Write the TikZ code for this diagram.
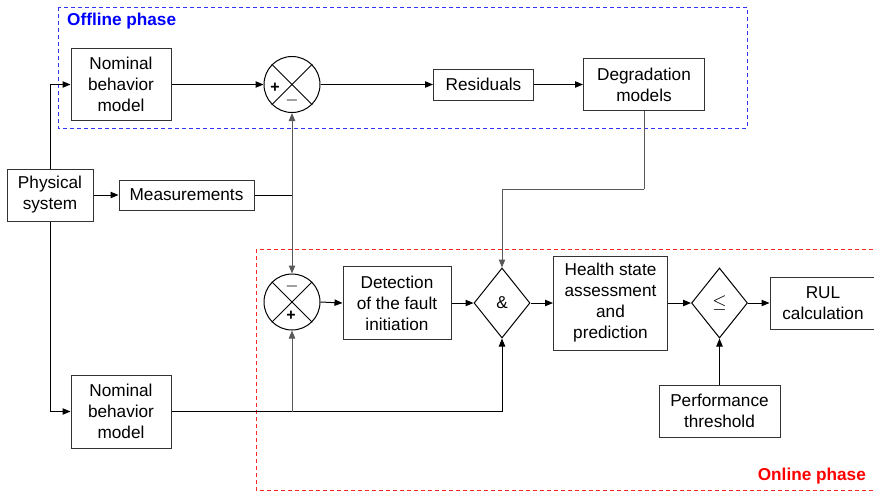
\documentclass[tikz,border=0pt]{standalone}
\usepackage{fontspec}
\setmainfont{Liberation Sans}
\usepackage{tikz}
\usetikzlibrary{arrows.meta, shapes.geometric, positioning}
\tikzstyle{box} = [rectangle, draw = black!80, inner sep=0pt, align=center]
\tikzstyle{sum} = [circle, draw = black, inner sep=0pt, minimum size=28pt]
\tikzstyle{gate} = [diamond, draw = black, inner sep=0pt, minimum width=28pt, minimum height=35pt]
\tikzstyle{arrow} = [-{Triangle[length=4pt,width=3.2pt]}]
\tikzstyle{gline} = [draw = black!65]
\tikzstyle{sign} = [inner sep=0pt, font=\fontsize{8}{8}\selectfont]
\tikzstyle{phase} = [dash pattern=on 2pt off 1.5pt, line width=0.5pt]

\begin{document}
\begin{tikzpicture}[x=0.5pt, y=-0.5pt, line width=0.5pt, font=\fontsize{8.6}{10.5}\selectfont]
          \clip (0,0) rectangle (874,493);
          \useasboundingbox (0,0) rectangle (874,493);

          % phases
          \draw[phase, blue!80] (58,7) rectangle (747,128);
          \draw[phase, red!85] (256,249) rectangle (880,490);
          \node[anchor=west, text=blue, font=\fontsize{8.6}{10.5}\selectfont\bfseries] (offline) at (60,21) {Offline phase};
          \node[anchor=east, text=red, font=\fontsize{8.6}{10.5}\selectfont\bfseries] (online) at (873,476) {Online phase};

          \node[box, minimum width=43pt, minimum height=26pt] (phys) at (50,195) {Physical\\system};
          \node[box, minimum width=67.5pt, minimum height=15pt] (meas) at (186.5,195) {Measurements};
          \node[box, minimum width=50pt, minimum height=36pt] (nom1) at (121,84.5) {Nominal\\behavior\\model};
          \node[box, minimum width=50pt, minimum height=36.5pt] (nom2) at (121,411.5) {Nominal\\behavior\\model};

          \node[sum] (sum1) at (292,84.5) {};
          \draw (sum1.north west) -- (sum1.south east);
          \draw (sum1.north east) -- (sum1.south west);
          \node[sign] (sum1p) at (275,88) {\textbf{+}};
          \node[sign] (sum1m) at (292,100) {$-$};

          \node[sum] (sum2) at (292,302) {};
          \draw (sum2.north west) -- (sum2.south east);
          \draw (sum2.north east) -- (sum2.south west);
          \node[sign] (sum2m) at (292,286) {$-$};
          \node[sign] (sum2p) at (291,316) {\textbf{+}};

          \node[box, minimum width=50pt, minimum height=15.5pt] (res) at (483.5,84.5) {Residuals};
          \node[box, minimum width=60.5pt, minimum height=26pt] (deg) at (644,84.5) {Degradation\\models};

          \node[box, minimum width=54pt, minimum height=36.5pt] (det) at (397,303) {Detection\\of the fault\\initiation};
          \node[gate] (and) at (502,303) {\&};
          \node[box, minimum width=57pt, minimum height=47pt] (health) at (610.5,303) {Health state\\assessment\\and\\prediction};
          \node[gate] (le) at (719.5,303) {$\leq$};
          \node[box, minimum width=53pt, minimum height=26pt] (rul) at (823,303) {RUL\\calculation};
          \node[box, minimum width=60.5pt, minimum height=26pt] (perf) at (719.5,411.3) {Performance\\threshold};

          \coordinate (j1) at (292,195);
          \coordinate (j2) at (292,411.5);
          \coordinate (bend) at (644,189);

          \draw[arrow] (phys.north) |- (nom1.west);
          \draw[arrow] (phys.south) |- (nom2.west);
          \draw[arrow] (phys.east) -- (meas.west);
          \draw[arrow] (nom1.east) -- (sum1.west);
          \draw[arrow] (sum1.east) -- (res.west);
          \draw[arrow] (res.east) -- (deg.west);
          \draw (meas.east) -- (j1);
          \draw[arrow, gline] (j1) -- (sum1.south);
          \draw[arrow, gline] (j1) -- (sum2.north);
          \draw[arrow] (nom2.east) -| (and.south);
          \draw[arrow, gline] (j2) -- (sum2.south);
          \draw[gline] (deg.south) -- (bend);
          \draw[arrow, gline] (bend) -| (and.north);
          \draw[arrow] (sum2.east) -- (det.west);
          \draw[arrow] (det.east) -- (and.west);
          \draw[arrow] (and.east) -- (health.west);
          \draw[arrow] (health.east) -- (le.west);
          \draw[arrow] (le.east) -- (rul.west);
          \draw[arrow] (perf.north) -- (le.south);
        \end{tikzpicture}
\end{document}
